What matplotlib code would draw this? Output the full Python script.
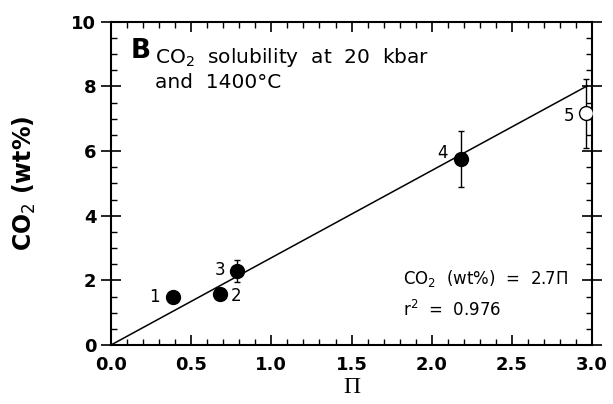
import matplotlib
matplotlib.use("Agg")
import matplotlib.pyplot as plt
import numpy as np
from matplotlib.ticker import MultipleLocator

# Data
pi_vals = [0.387, 0.68, 0.786, 2.18]
co2_vals = [1.48, 1.58, 2.29, 5.76]
co2_err = [0.15, 0.12, 0.34, 0.86]
labels = ["1", "2", "3", "4"]

pi_open = [2.96]
co2_open = [7.17]
co2_open_err = [1.07]

slope = 2.7
fit_x = [0.0, 2.97]

plt.rcParams["font.family"] = ["DejaVu Sans"]

fig = plt.figure(figsize=(6.13, 4.04), dpi=100)
ax = fig.add_axes([0.181, 0.146, 0.785, 0.800])

ax.plot(fit_x, [slope * x for x in fit_x], color="black", lw=1.1, zorder=1)
ax.errorbar(pi_vals, co2_vals, yerr=co2_err, fmt="o", color="black",
            ms=10, capsize=2.5, elinewidth=1, capthick=1, zorder=3)
ax.errorbar(pi_open, co2_open, yerr=co2_open_err, fmt="o", mfc="white",
            mec="black", ecolor="black", ms=10, capsize=2.5, elinewidth=1,
            capthick=1, zorder=3)

# label offsets in points
offsets = {"1": (-13.5, 0), "2": (11.5, -1.5), "3": (-12, 0.5), "4": (-13, 4.5)}
for x, y, lab in zip(pi_vals, co2_vals, labels):
    ax.annotate(lab, (x, y), xytext=offsets[lab], textcoords="offset points",
                ha="center", va="center", fontsize=12)
ax.annotate("5", (pi_open[0], co2_open[0]), xytext=(-12, -2),
            textcoords="offset points", ha="center", va="center", fontsize=12)

ax.text(0.12, 9.1, "B", fontsize=19, fontweight="bold", va="center")
ax.text(0.274, 9.25, "CO$_2$  solubility  at  20  kbar\nand  1400°C",
        fontsize=14.5, va="top", linespacing=1.28)
ax.text(1.82, 1.58, "CO$_2$  (wt%)  =  2.7Π\nr$^2$  =  0.976",
        fontsize=12, va="center", linespacing=1.65)

ax.set_xlim(0, 3.0)
ax.set_ylim(0, 10)
ax.xaxis.set_major_locator(MultipleLocator(0.5))
ax.xaxis.set_minor_locator(MultipleLocator(0.1))
ax.yaxis.set_major_locator(MultipleLocator(2))
ax.yaxis.set_minor_locator(MultipleLocator(0.5))
ax.xaxis.set_major_formatter(plt.FuncFormatter(lambda v, p: f"{v:.1f}"))
ax.tick_params(axis="x", which="major", direction="in", length=7, width=1.2,
               top=True, labelsize=13, pad=8)
ax.tick_params(axis="x", which="minor", direction="in", length=4, width=1,
               top=True)
ax.tick_params(axis="y", which="major", direction="inout", length=14,
               width=1.2, right=True, labelsize=13)
ax.tick_params(axis="y", which="minor", direction="in", length=4, width=1,
               right=True)
for lab in ax.get_xticklabels() + ax.get_yticklabels():
    lab.set_fontweight("bold")
for s in ax.spines.values():
    s.set_linewidth(1.5)

ax.set_xlabel("Π", fontsize=17, family=["Liberation Serif"], labelpad=2)
ax.set_ylabel("CO$_2$ (wt%)", fontsize=17, fontweight="bold", labelpad=24)

fig.savefig("out.png", dpi=100)
